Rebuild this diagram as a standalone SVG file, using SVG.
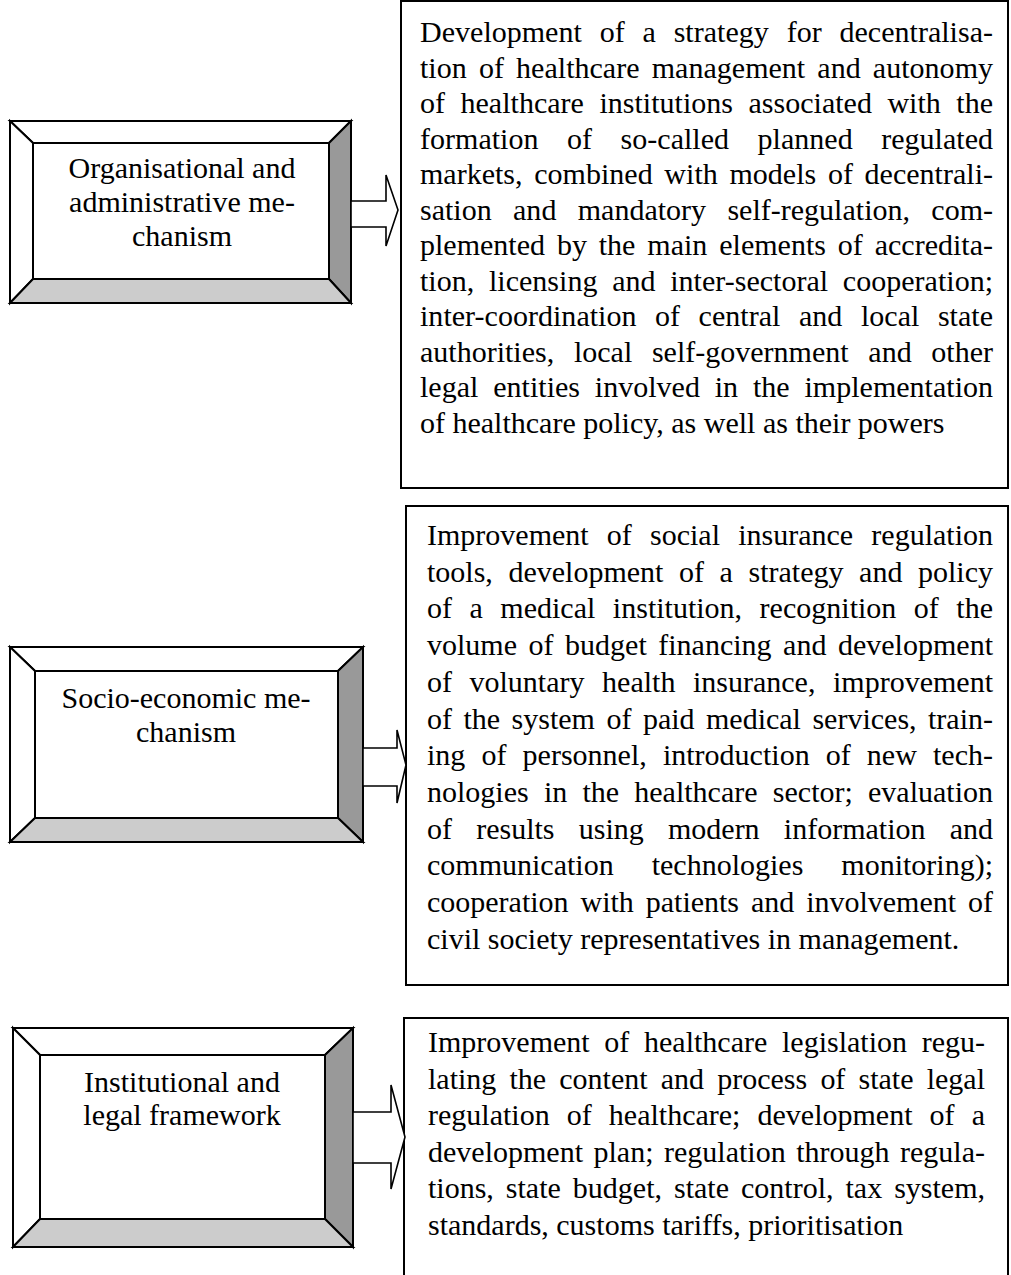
<svg xmlns="http://www.w3.org/2000/svg" width="1011" height="1275" viewBox="0 0 1011 1275">
<style>
text{font-family:"Liberation Serif","Times New Roman",serif;font-size:30px;fill:#000}
.lbl{text-anchor:middle}
.edge{stroke:#000;stroke-width:2;stroke-linejoin:miter}
.face{fill:#fff}
.lt{fill:#fff}
.dk{fill:#999}
.md{fill:#ccc}
.tbox{fill:#fff;stroke:#000;stroke-width:2}
.arr{fill:#fff;stroke:#000;stroke-width:1.6;stroke-linejoin:miter}
</style>
<rect width="1011" height="1275" fill="#fff"/>

<g id="label1">
  <polygon class="lt edge" points="10,121 351,121 329,143 33,143"/>
  <polygon class="lt edge" points="10,121 33,143 33,279 10,303"/>
  <polygon class="dk edge" points="351,121 351,303 329,279 329,143"/>
  <polygon class="md edge" points="10,303 33,279 329,279 351,303"/>
  <rect class="face edge" x="33" y="143" width="296" height="136"/>
  <text class="lbl" x="182" y="178">Organisational and</text>
  <text class="lbl" x="182" y="212">administrative me-</text>
  <text class="lbl" x="182" y="246">chanism</text>
</g>

<g id="label2">
  <polygon class="lt edge" points="10,647 363,647 338,671 35,671"/>
  <polygon class="lt edge" points="10,647 35,671 35,818 10,842"/>
  <polygon class="dk edge" points="363,647 363,842 338,818 338,671"/>
  <polygon class="md edge" points="10,842 35,818 338,818 363,842"/>
  <rect class="face edge" x="35" y="671" width="303" height="147"/>
  <text class="lbl" x="186" y="708">Socio-economic me-</text>
  <text class="lbl" x="186" y="742">chanism</text>
</g>

<g id="label3">
  <polygon class="lt edge" points="13,1028 353,1028 325,1055 40,1055"/>
  <polygon class="lt edge" points="13,1028 40,1055 40,1219 13,1247"/>
  <polygon class="dk edge" points="353,1028 353,1247 325,1219 325,1055"/>
  <polygon class="md edge" points="13,1247 40,1219 325,1219 353,1247"/>
  <rect class="face edge" x="40" y="1055" width="285" height="164"/>
  <text class="lbl" x="182" y="1092">Institutional and</text>
  <text class="lbl" x="182" y="1125">legal framework</text>
</g>

<g id="box1">
  <rect class="tbox" x="401" y="1" width="607" height="487"/>
  <text x="420" y="42" word-spacing="10.3" textLength="573" lengthAdjust="spacing">Development of a strategy for decentralisa-</text>
  <text x="420" y="77.5" word-spacing="4.6" textLength="573" lengthAdjust="spacing">tion of healthcare management and autonomy</text>
  <text x="420" y="113" word-spacing="8" textLength="573" lengthAdjust="spacing">of healthcare institutions associated with the</text>
  <text x="420" y="148.5" word-spacing="21" textLength="573" lengthAdjust="spacing">formation of so-called planned regulated</text>
  <text x="420" y="184" word-spacing="4.2" textLength="573" lengthAdjust="spacing">markets, combined with models of decentrali-</text>
  <text x="420" y="219.5" word-spacing="13.8" textLength="573" lengthAdjust="spacing">sation and mandatory self-regulation, com-</text>
  <text x="420" y="255" word-spacing="4.4" textLength="573" lengthAdjust="spacing">plemented by the main elements of accredita-</text>
  <text x="420" y="290.5" word-spacing="7.2" textLength="573" lengthAdjust="spacing">tion, licensing and inter-sectoral cooperation;</text>
  <text x="420" y="326" word-spacing="11" textLength="573" lengthAdjust="spacing">inter-coordination of central and local state</text>
  <text x="420" y="361.5" word-spacing="12.2" textLength="573" lengthAdjust="spacing">authorities, local self-government and other</text>
  <text x="420" y="397" word-spacing="7.3" textLength="573" lengthAdjust="spacing">legal entities involved in the implementation</text>
  <text x="420" y="432.5">of healthcare policy, as well as their powers</text>
</g>

<g id="box2">
  <rect class="tbox" x="406" y="506" width="602" height="479"/>
  <text x="427" y="545" word-spacing="10.7" textLength="566" lengthAdjust="spacing">Improvement of social insurance regulation</text>
  <text x="427" y="581.7" word-spacing="8.1" textLength="566" lengthAdjust="spacing">tools, development of a strategy and policy</text>
  <text x="427" y="618.4" word-spacing="10" textLength="566" lengthAdjust="spacing">of a medical institution, recognition of the</text>
  <text x="427" y="655.1" word-spacing="4" textLength="566" lengthAdjust="spacing">volume of budget financing and development</text>
  <text x="427" y="691.8" word-spacing="10" textLength="566" lengthAdjust="spacing">of voluntary health insurance, improvement</text>
  <text x="427" y="728.5" word-spacing="4" textLength="566" lengthAdjust="spacing">of the system of paid medical services, train-</text>
  <text x="427" y="765.2" word-spacing="8.6" textLength="566" lengthAdjust="spacing">ing of personnel, introduction of new tech-</text>
  <text x="427" y="801.9" word-spacing="7.7" textLength="566" lengthAdjust="spacing">nologies in the healthcare sector; evaluation</text>
  <text x="427" y="838.6" word-spacing="16.7" textLength="566" lengthAdjust="spacing">of results using modern information and</text>
  <text x="427" y="875.3" word-spacing="30.5" textLength="566" lengthAdjust="spacing">communication technologies monitoring);</text>
  <text x="427" y="912" word-spacing="4.4" textLength="566" lengthAdjust="spacing">cooperation with patients and involvement of</text>
  <text x="427" y="948.7">civil society representatives in management.</text>
</g>

<g id="box3">
  <rect class="tbox" x="404" y="1018" width="604" height="280"/>
  <text x="428" y="1052" word-spacing="7.2" textLength="557" lengthAdjust="spacing">Improvement of healthcare legislation regu-</text>
  <text x="428" y="1088.5" word-spacing="5.7" textLength="557" lengthAdjust="spacing">lating the content and process of state legal</text>
  <text x="428" y="1125" word-spacing="9.6" textLength="557" lengthAdjust="spacing">regulation of healthcare; development of a</text>
  <text x="428" y="1161.5" word-spacing="3" textLength="557" lengthAdjust="spacing">development plan; regulation through regula-</text>
  <text x="428" y="1198" word-spacing="4.5" textLength="557" lengthAdjust="spacing">tions, state budget, state control, tax system,</text>
  <text x="428" y="1234.5">standards, customs tariffs, prioritisation</text>
</g>

<g id="connectors">
  <polygon class="arr" points="351,201 386,201 386,175 398,210 386,246 386,227 351,227"/>
  <polygon class="arr" points="363,748 397,748 397,730 406,765 397,803 397,786 363,786"/>
  <polygon class="arr" points="353,1112 391,1112 391,1085 405,1137 391,1189 391,1163 353,1163"/>
</g>
</svg>
